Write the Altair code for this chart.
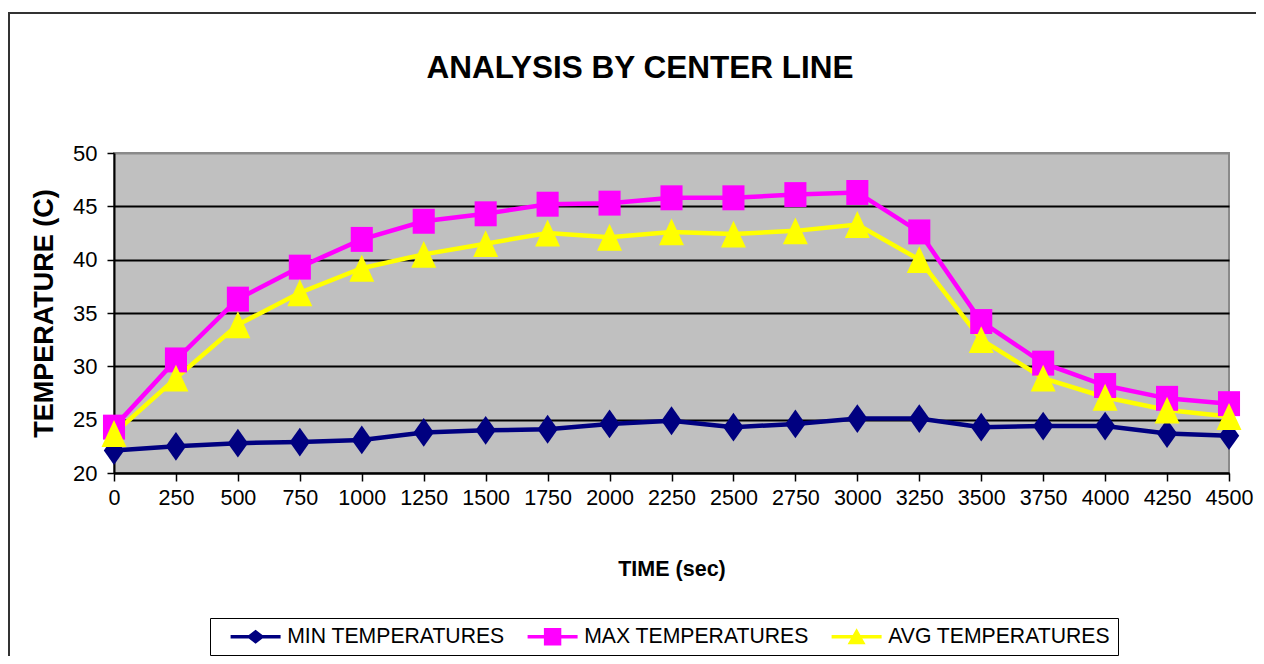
import altair as alt
import pandas as pd

time_sec = [0, 250, 500, 750, 1000, 1250, 1500, 1750, 2000, 2250, 2500,
            2750, 3000, 3250, 3500, 3750, 4000, 4250, 4500]
min_temps = [22.1, 22.5, 22.8, 22.9, 23.1, 23.8, 24.0, 24.1, 24.6, 24.9, 24.3,
             24.6, 25.1, 25.1, 24.3, 24.4, 24.4, 23.7, 23.5]
max_temps = [24.3, 30.6, 36.3, 39.3, 41.9, 43.6, 44.3, 45.2, 45.3, 45.8, 45.8,
             46.1, 46.3, 42.6, 34.2, 30.3, 28.2, 27.0, 26.5]
avg_temps = [23.7, 28.9, 33.9, 36.9, 39.2, 40.5, 41.5, 42.5, 42.1, 42.6, 42.4,
             42.7, 43.3, 40.0, 32.5, 28.9, 27.1, 25.9, 25.3]
series_names = ["MIN TEMPERATURES", "MAX TEMPERATURES", "AVG TEMPERATURES"]
series_colors = ["#000080", "#FF00FF", "#FFFF00"]
x_ticks = list(range(0, 4501, 250))
y_ticks = [20, 25, 30, 35, 40, 45, 50]
chart_title = "ANALYSIS BY CENTER LINE"

rows = []
for name, vals in zip(series_names, [min_temps, max_temps, avg_temps]):
    for t, v in zip(time_sec, vals):
        rows.append({"time": t, "series": name, "temp": v})
df = pd.DataFrame(rows)

FONT = "Liberation Sans, Arial, sans-serif"

# plot marker shapes (slightly taller than wide, as in the original)
m_diamond = "M0,-1.2 L0.85,0 L0,1.2 L-0.85,0 Z"
m_square = "M-0.92,-1.04 L0.92,-1.04 L0.92,1.04 L-0.92,1.04 Z"
m_triangle = "M0,-1.12 L1.04,1.12 L-1.04,1.12 Z"
series_shapes = [m_diamond, m_square, m_triangle]

# legend symbol paths (line + marker)
p_min = "M-2.5,-0.17 L-0.68,-0.17 L0,-0.7 L0.68,-0.17 L2.5,-0.17 L2.5,0.17 L0.68,0.17 L0,0.7 L-0.68,0.17 L-2.5,0.17 Z"
p_max = "M-2.5,-0.17 L-0.87,-0.17 L-0.87,-0.87 L0.87,-0.87 L0.87,-0.17 L2.5,-0.17 L2.5,0.17 L0.87,0.17 L0.87,0.87 L-0.87,0.87 L-0.87,0.17 L-2.5,0.17 Z"
p_avg = "M-2.5,-0.17 L-0.38,-0.17 L0,-0.85 L0.38,-0.17 L2.5,-0.17 L2.5,0.17 L0.57,0.17 L0.9,0.75 L-0.9,0.75 L-0.57,0.17 L-2.5,0.17 Z"
legend_paths = [p_min, p_max, p_avg]

x_enc = alt.X("time:Q", scale=alt.Scale(domain=[0, 4500], nice=False, zero=False),
              axis=alt.Axis(values=x_ticks, title="TIME (sec)", grid=False, format="d",
                            labelFont=FONT, labelFontSize=21.5, labelColor="black",
                            labelOverlap=False, labelFlush=False, labelPadding=6,
                            tickSize=8, tickColor="black", tickWidth=1.5,
                            domainColor="black", domainWidth=2,
                            titleFont=FONT, titleFontSize=21.5, titleFontWeight="bold",
                            titleColor="black", titlePadding=50))
y_enc = alt.Y("temp:Q", scale=alt.Scale(domain=[20, 50], nice=False, zero=False),
              axis=alt.Axis(values=y_ticks, title="TEMPERATURE (C)",
                            labelFont=FONT, labelFontSize=22, labelColor="black",
                            labelPadding=10, tickSize=7, tickColor="black", tickWidth=1.5,
                            domainColor="black", domainWidth=2,
                            grid=True, gridWidth=2,
                            gridColor={"condition": {"test": "datum.value === 50", "value": "#8a8a8a"}, "value": "black"},
                            titleFont=FONT, titleFontSize=27, titleFontWeight="bold",
                            titleColor="black", titlePadding=14))

legend = alt.Legend(title=None, orient="none", legendX=96, legendY=465,
                    direction="horizontal", labelFont=FONT,
                    labelFontSize=21.2, labelColor="black", labelLimit=500,
                    symbolSize=400, symbolOffset=27, labelOffset=21,
                    symbolStrokeWidth=0, symbolOpacity=1,
                    columnPadding=10, padding=8, strokeColor="black")
color_enc = alt.Color("series:N", sort=series_names,
                      scale=alt.Scale(domain=series_names, range=series_colors),
                      legend=legend)

base = alt.Chart(df).encode(x=x_enc, y=y_enc, color=color_enc, order=alt.Order("time:Q"))
lines = base.mark_line(strokeWidth=4.5)

point_layers = []
for name, shp in zip(series_names, series_shapes):
    point_layers.append(
        base.transform_filter(alt.datum.series == name)
        .mark_point(filled=True, opacity=1, size=144 * 4, shape=shp, strokeWidth=0))

legend_layer = base.transform_filter("false").mark_point(filled=True, opacity=1).encode(
    shape=alt.Shape("series:N", sort=series_names,
                    scale=alt.Scale(domain=series_names, range=legend_paths),
                    legend=legend))

one_row = alt.Data(values=[{"label": chart_title}])
frame_top = alt.Chart(one_row).mark_rule(color="#333333", strokeWidth=2).encode(
    x=alt.value(-106), x2=alt.value(1142), y=alt.value(-140), y2=alt.value(-140))
frame_left = alt.Chart(one_row).mark_rule(color="#333333", strokeWidth=2).encode(
    x=alt.value(-105), x2=alt.value(-105), y=alt.value(-140), y2=alt.value(520))
title_text = alt.Chart(one_row).mark_text(
    font=FONT, fontSize=31.5, fontWeight="bold", color="black",
    align="center", baseline="alphabetic").encode(
    text="label:N", x=alt.value(526), y=alt.value(-75))

chart = alt.layer(frame_top, frame_left, title_text, lines, *point_layers, legend_layer).properties(
    width=1115, height=320,
    padding={"left": 106, "top": 145, "right": 27, "bottom": 183},
    autosize=alt.AutoSizeParams(type="none"),
    background="white",
).configure_view(fill="#C0C0C0", stroke="#8a8a8a", strokeWidth=2)

chart.save("out.html", embed_options={"renderer": "svg", "actions": False})
